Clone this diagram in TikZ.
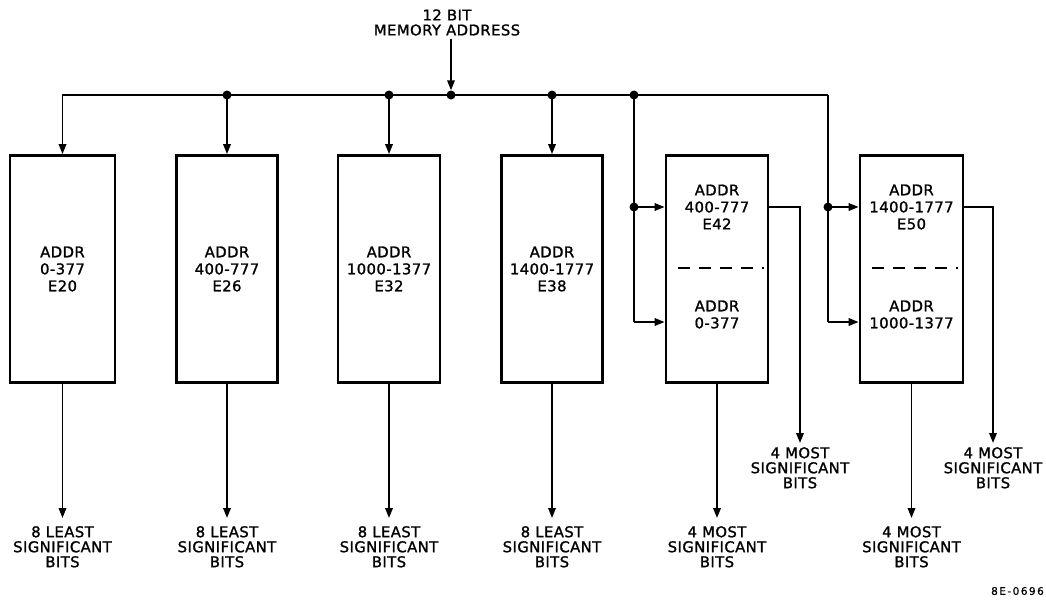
\documentclass[tikz,border=0pt]{standalone}
\usepackage{fontspec}
\setmainfont{DejaVu Sans}[LetterSpace=3,FakeBold=1.3]
\newfontfamily\tagfont{DejaVu Sans}[LetterSpace=14,FakeBold=1]
\usetikzlibrary{arrows.meta}
\newcommand\bxfont{\fontsize{14.8}{17}\selectfont}
\newcommand\lbfont{\fontsize{14.8}{15}\selectfont}
\begin{document}
\begin{tikzpicture}[x=1pt,y=-1pt,
  lw/.style={line width=1.8pt},
  arr/.style={lw,-{Triangle[length=10pt,width=7.5pt]}},
  box/.style={draw,line width=2.8pt,rectangle,minimum height=227pt,inner sep=0pt,align=center,font=\bxfont},
  btext/.style={align=center,inner sep=0pt,font=\bxfont},
  dot/.style={circle,fill,inner sep=0pt,minimum size=9pt},
  blbl/.style={align=center,inner xsep=0pt,inner ysep=8pt,anchor=north,font=\lbfont},
  rlbl/.style={align=center,inner xsep=0pt,inner ysep=4pt,anchor=north,font=\lbfont},
  divline/.style={line width=1.6pt,dash pattern=on 12pt off 9pt}]
\useasboundingbox (0,0) rectangle (1046,600);

% title
\node[align=center,font=\lbfont,inner sep=3pt] (title) at (447,22.5) {12 BIT\\MEMORY ADDRESS};

% boxes
\node[box,minimum width=105pt] (e20) at (62.5,269) {ADDR\\0-377\\E20};
\node[box,minimum width=101pt] (e26) at (227,269) {ADDR\\400-777\\E26};
\node[box,minimum width=102pt] (e32) at (389,269) {ADDR\\1000-1377\\E32};
\node[box,minimum width=101pt] (e38) at (552,269) {ADDR\\1400-1777\\E38};
\node[box,minimum width=102pt] (e42) at (717,269) {};
\node[box,minimum width=103pt] (e50) at (911.5,269) {};

\node[btext] (e42a) at (717,207) {ADDR\\400-777\\E42};
\node[btext] (e42b) at (717,314.5) {ADDR\\0-377};
\node[btext] (e50a) at (911.5,207) {ADDR\\1400-1777\\E50};
\node[btext] (e50b) at (911.5,314.5) {ADDR\\1000-1377};

\draw[divline] (678,268) -- (764,268);
\draw[divline] (872,268) -- (958,268);

% dots and bus coordinates
\node[dot] (d0) at (451,95) {};
\node[dot] (d26) at (227,95) {};
\node[dot] (d32) at (389,95) {};
\node[dot] (d38) at (552,95) {};
\node[dot] (d42) at (634,95) {};
\node[dot] (d42m) at (634,207) {};
\node[dot] (d50m) at (828,207) {};
\coordinate (tR) at (828,95);
\coordinate (l42) at (634,322);
\coordinate (l50) at (828,322);

% input
\draw[arr] (title.south -| d0) -- (d0.north);

% bus
\draw[arr] (tR) -| (e20.north);
\draw[arr] (d26.center) -- (e26.north);
\draw[arr] (d32.center) -- (e32.north);
\draw[arr] (d38.center) -- (e38.north);
\draw[lw] (d42.center) -- (l42);
\draw[arr] (d42m.center) -- (d42m -| e42.west);
\draw[arr] (l42) -- (l42 -| e42.west);
\draw[lw] (tR) -- (l50);
\draw[arr] (d50m.center) -- (d50m -| e50.west);
\draw[arr] (l50) -- (l50 -| e50.west);

% output labels
\node[blbl] (o20) at (62.5,518) {8 LEAST\\SIGNIFICANT\\BITS};
\node[blbl] (o26) at (227,518) {8 LEAST\\SIGNIFICANT\\BITS};
\node[blbl] (o32) at (389,518) {8 LEAST\\SIGNIFICANT\\BITS};
\node[blbl] (o38) at (552,518) {8 LEAST\\SIGNIFICANT\\BITS};
\node[blbl] (o42) at (717,518) {4 MOST\\SIGNIFICANT\\BITS};
\node[blbl] (o50) at (911.5,518) {4 MOST\\SIGNIFICANT\\BITS};
\node[rlbl] (r42) at (800,443) {4 MOST\\SIGNIFICANT\\BITS};
\node[rlbl] (r50) at (993,443) {4 MOST\\SIGNIFICANT\\BITS};

\draw[arr] (e20.south) -- (o20.north);
\draw[arr] (e26.south) -- (o26.north);
\draw[arr] (e32.south) -- (o32.north);
\draw[arr] (e38.south) -- (o38.north);
\draw[arr] (e42.south) -- (o42.north);
\draw[arr] (e50.south) -- (o50.north);
\draw[arr] (d42m -| e42.east) -| (r42.north);
\draw[arr] (d50m -| e50.east) -| (r50.north);

% figure tag
\node[anchor=east,inner sep=0pt,font=\tagfont\fontsize{10.5}{12}\selectfont] (tag) at (1044,591) {8E-0696};
\end{tikzpicture}
\end{document}
